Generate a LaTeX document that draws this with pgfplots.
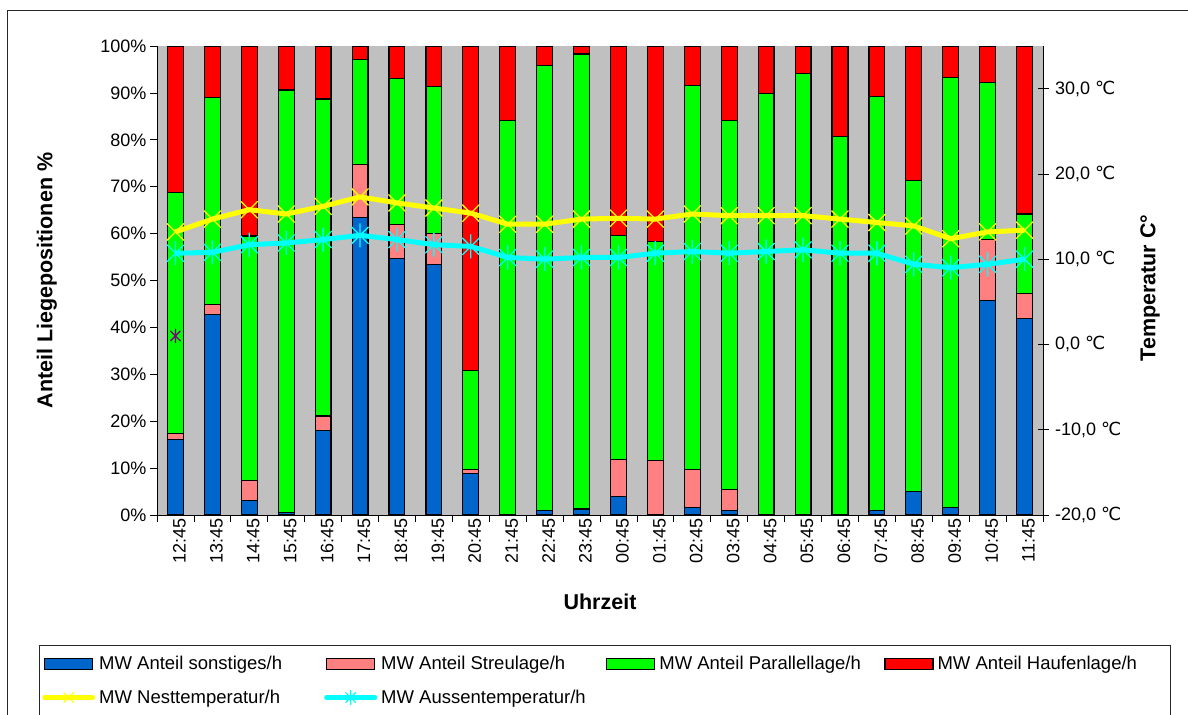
\documentclass[border=0pt]{standalone}
\usepackage{pgfplots}
\usepackage{pgfplotstable}
\pgfplotsset{compat=1.18}
\usepackage{fontspec}
\setmainfont{Liberation Sans}
\newfontfamily\dejavu{DejaVu Sans}

\definecolor{sonst}{RGB}{0,102,204}
\definecolor{streu}{RGB}{255,128,128}
\definecolor{para}{RGB}{0,255,0}
\definecolor{haufen}{RGB}{255,0,0}
\definecolor{nest}{RGB}{255,255,0}
\definecolor{aussen}{RGB}{0,255,255}
\definecolor{plotbg}{RGB}{192,192,192}
\definecolor{einzel}{RGB}{128,0,128}
\definecolor{rahmen}{RGB}{40,40,40}

% Stern-Marker: Kreuz mit senkrechtem Strich
\pgfdeclareplotmark{xstar}{%
  \pgfpathmoveto{\pgfqpoint{-0.7071\pgfplotmarksize}{-0.7071\pgfplotmarksize}}%
  \pgfpathlineto{\pgfqpoint{0.7071\pgfplotmarksize}{0.7071\pgfplotmarksize}}%
  \pgfpathmoveto{\pgfqpoint{-0.7071\pgfplotmarksize}{0.7071\pgfplotmarksize}}%
  \pgfpathlineto{\pgfqpoint{0.7071\pgfplotmarksize}{-0.7071\pgfplotmarksize}}%
  \pgfpathmoveto{\pgfqpoint{0pt}{-\pgfplotmarksize}}%
  \pgfpathlineto{\pgfqpoint{0pt}{\pgfplotmarksize}}%
  \pgfusepathqstroke}

% Anteile der Liegepositionen je Stunde (in %)
\pgfplotstableread{
x sonst streu para haufen
0  16.1  1.2 51.4 31.3
1  42.8  2.1 44.2 10.9
2   3.1  4.2 52.2 40.5
3   0.6  0.0 90.0  9.4
4  18.0  3.1 67.6 11.3
5  63.4 11.4 22.4  2.8
6  54.7  7.3 31.0  7.0
7  53.4  6.7 31.2  8.7
8   8.9  0.8 21.1 69.2
9   0.0  0.0 84.1 15.9
10  0.9  0.0 95.0  4.1
11  1.3  0.0 97.0  1.7
12  3.9  8.0 47.7 40.4
13  0.0 11.6 46.8 41.6
14  1.6  8.1 81.8  8.5
15  0.9  4.6 78.7 15.8
16  0.0  0.0 89.9 10.1
17  0.0  0.0 94.2  5.8
18  0.0  0.0 80.7 19.3
19  0.9  0.0 88.3 10.8
20  5.0  0.0 66.4 28.6
21  1.6  0.0 91.7  6.7
22 45.7 13.1 33.5  7.7
23 41.9  5.4 16.9 35.8
}\anteile

% Mittlere Temperaturen je Stunde (in Grad Celsius)
\pgfplotstableread{
x nest aussen
0  13.2 10.7
1  14.7 10.8
2  15.8 11.7
3  15.3 11.9
4  16.2 12.3
5  17.3 12.8
6  16.6 12.3
7  16.0 11.7
8  15.4 11.5
9  14.1 10.2
10 14.1 10.0
11 14.7 10.2
12 14.8 10.2
13 14.7 10.7
14 15.3 10.9
15 15.1 10.7
16 15.1 10.9
17 15.1 11.1
18 14.7 10.7
19 14.3 10.7
20 13.9  9.4
21 12.4  9.0
22 13.2  9.4
23 13.4 10.0
}\temps

\pgfplotsset{
  every tick label/.append style={font=\fontsize{18bp}{20bp}\selectfont},
  barlegend/.style={legend image code/.code={%
      \draw[##1, line width=1.2bp] (0bp,-5.5bp) rectangle (48bp,5.5bp);}},
  linelegend/.style={legend image code/.code={%
      \draw[mark repeat=2, mark phase=2, ##1, sharp plot, line cap=round] plot coordinates {(0bp,0bp) (24bp,0bp) (48bp,0bp)};}},
}

\begin{document}
\begin{tikzpicture}
% Rahmen um das gesamte Diagramm
\draw[rahmen, line width=1.3bp] (7.5bp,-760bp) |- (1220bp,-10.5bp);
% Rahmen der Legende (unten offen)
\draw[rahmen, line width=1bp] (39.5bp,-760bp) |- (1170bp,-645bp) -- (1170bp,-760bp);

\begin{axis}[
  at={(157bp,-46bp)}, anchor=north west,
  scale only axis, width=886bp, height=469bp,
  ybar stacked, bar width=0.43,
  xmin=-0.5, xmax=23.5, ymin=0, ymax=100,
  axis background/.style={fill=plotbg},
  axis x line*=bottom, axis y line*=left,
  axis line style={-, line width=1bp, black},
  tick align=outside, major tick length=7bp,
  tick style={black, line width=0.8bp},
  xtick={-0.5,0.5,...,23.5},
  xticklabels={},
  extra x ticks={0,...,23},
  extra x tick labels={12:45,13:45,14:45,15:45,16:45,17:45,18:45,19:45,20:45,21:45,22:45,23:45,00:45,01:45,02:45,03:45,04:45,05:45,06:45,07:45,08:45,09:45,10:45,11:45},
  extra x tick style={major tick length=0pt, xticklabel style={rotate=90, anchor=east, xshift=0bp, yshift=-4bp}},
  ytick={0,10,...,100},
  /pgf/number format/assume math mode=true,
  yticklabel={\pgfmathprintnumber{\tick}\%},
  xlabel={Uhrzeit},
  ylabel={Anteil Liegepositionen \%},
  label style={font=\fontsize{21.5bp}{24bp}\selectfont\bfseries},
  xlabel style={at={(axis description cs:0.5,-0.1855)}, anchor=center},
  ylabel style={at={(axis description cs:-0.1242,0.5)}, anchor=center},
  legend columns=4,
  legend cell align=left,
  legend style={draw=none, fill=none,
    at={(axis description cs:-0.1298,-0.2964)}, anchor=north west,
    inner sep=0pt, row sep=15bp,
    font=\fontsize{18.5bp}{20bp}\selectfont,
    /tikz/every odd column/.append style={column sep=2bp}},
]
\addplot[fill=sonst, draw=black, line width=1.2bp, forget plot] table[x=x, y=sonst]{\anteile};
\addplot[fill=streu, draw=black, line width=1.2bp, forget plot] table[x=x, y=streu]{\anteile};
\addplot[fill=para, draw=black, line width=1.2bp, forget plot] table[x=x, y=para]{\anteile};
\addplot[fill=haufen, draw=black, line width=1.2bp, forget plot] table[x=x, y=haufen]{\anteile};

\addlegendimage{barlegend, fill=sonst, draw=black}
\addlegendentry{\makebox[223bp][l]{MW Anteil sonstiges/h}}
\addlegendimage{barlegend, fill=streu, draw=black}
\addlegendentry{\makebox[223bp][l]{MW Anteil Streulage/h}}
\addlegendimage{barlegend, fill=para, draw=black}
\addlegendentry{\makebox[223bp][l]{MW Anteil Parallellage/h}}
\addlegendimage{barlegend, fill=haufen, draw=black}
\addlegendentry{MW Anteil Haufenlage/h}
\addlegendimage{linelegend, nest, line width=5bp, mark=x, mark size=7bp, mark options={line width=1.2bp}}
\addlegendentry{\makebox[223bp][l]{MW Nesttemperatur/h}}
\addlegendimage{linelegend, aussen, line width=5bp, mark=xstar, mark size=7bp, mark options={line width=1.2bp}}
\addlegendentry{\makebox[223bp][l]{MW Aussentemperatur/h}}
\end{axis}

\begin{axis}[
  at={(157bp,-46bp)}, anchor=north west,
  scale only axis, width=886bp, height=469bp,
  xmin=-0.5, xmax=23.5, ymin=-20, ymax=35,
  axis x line=none, axis y line*=right,
  axis line style={-, line width=1bp, black},
  tick align=center, major tick length=11bp,
  tick style={black, line width=0.8bp},
  ytick={-20,-10,...,30},
  yticklabel={\pgfmathprintnumber[assume math mode=true, fixed, fixed zerofill, precision=1, use comma]{\tick}~{\dejavu ℃}},
  yticklabel style={xshift=3bp},
  ylabel={Temperatur C°},
  ylabel style={font=\fontsize{21.5bp}{24bp}\selectfont\bfseries,
    at={(axis description cs:1.1208,0.484)}, anchor=center},
]
\addplot[nest, line width=5bp, mark=x, mark size=12bp, mark options={line width=1.3bp}] table[x=x, y=nest]{\temps};
\addplot[aussen, line width=5bp, mark=xstar, mark size=12bp, mark options={line width=1.3bp}] table[x=x, y=aussen]{\temps};
\addplot[only marks, einzel, mark=xstar, mark size=7bp, mark options={line width=1.3bp}] coordinates {(0,1.0)};
\end{axis}

\pgfresetboundingbox
\useasboundingbox (0,0) rectangle (1188bp,-715bp);
\end{tikzpicture}
\end{document}
